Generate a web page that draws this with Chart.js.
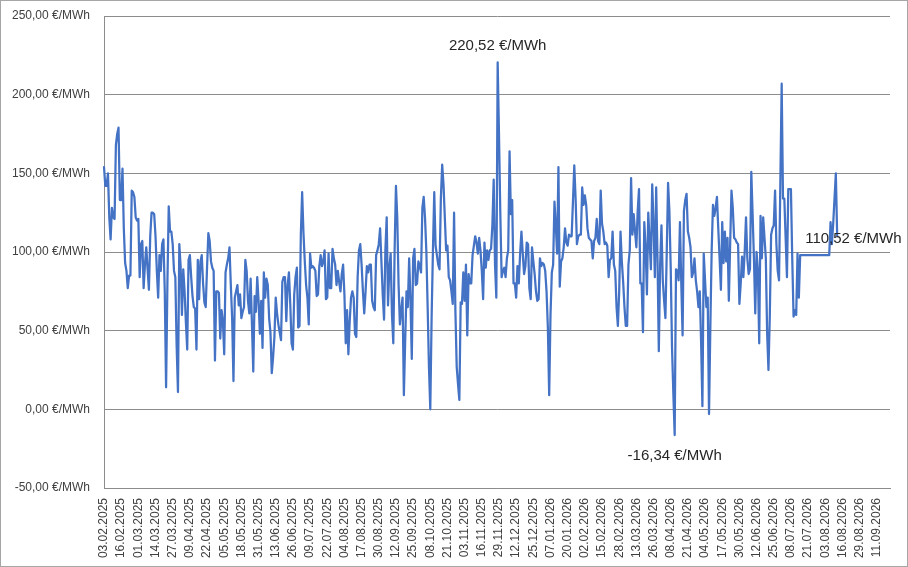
<!DOCTYPE html>
<html>
<head>
<meta charset="utf-8">
<title>Strompreis</title>
<script src="https://cdn.jsdelivr.net/npm/chart.js@4.4.1/dist/chart.umd.min.js"></script>
<style>
	html, body { margin: 0; padding: 0; background: #fff; }
	canvas { display: block; }
</style>
</head>
<body>
<canvas id="myChart" width="908" height="567"></canvas>
<script>
// daily price, first value = 03.02.2025
var prices = [
	154, 142, 142, 150, 122, 108, 128, 122, 121, 168,
	175, 179, 133, 133, 153, 115, 93, 88, 77, 85,
	85, 139, 138, 135, 122, 120, 121, 84, 105, 107,
	77, 92, 103, 89, 76, 110, 125, 125, 124, 110,
	88, 71, 98, 88, 105, 108, 75, 14, 80, 129,
	113, 113, 105, 88, 84, 40, 11, 105, 91, 60,
	89, 75, 55, 38, 95, 98, 84, 72, 65, 64,
	38, 95, 70, 94, 98, 80, 68, 65, 90, 112,
	107, 94, 90, 88, 31, 75, 75, 74, 45, 63,
	56, 35, 87, 92, 96, 103, 79, 58, 18, 71,
	75, 79, 66, 73, 58, 62, 65, 95, 88, 69,
	61, 83, 54, 24, 72, 62, 84, 69, 48, 69,
	39, 87, 71, 83, 79, 58, 49, 23, 33, 46,
	71, 61, 54, 49, 44, 81, 84, 84, 56, 79,
	87, 67, 42, 38, 73, 84, 90, 52, 53, 111,
	138, 112, 94, 79, 71, 54, 99, 90, 91, 90,
	88, 72, 73, 91, 98, 91, 94, 101, 70, 71,
	99, 77, 77, 102, 96, 92, 79, 88, 81, 75,
	86, 92, 73, 42, 63, 35, 56, 71, 75, 71,
	48, 46, 84, 101, 105, 92, 75, 61, 75, 91,
	87, 92, 92, 69, 65, 63, 98, 101, 105, 115,
	94, 73, 57, 101, 122, 66, 90, 99, 60, 42,
	101, 142, 122, 79, 54, 63, 71, 9, 44, 75,
	65, 96, 69, 32, 96, 102, 79, 80, 94, 91,
	87, 128, 135, 122, 101, 65, 27, 0, 58, 101,
	138, 104, 98, 92, 89, 134, 155.5, 143, 122, 101,
	104, 84, 82, 75, 67, 125, 63, 27, 16, 6,
	68, 67, 87, 69, 92, 47, 86, 80, 80, 98,
	104, 110, 106, 99, 109, 101, 88, 70, 106, 90,
	101, 95, 101, 102, 117, 146, 92, 71, 220.52, 175,
	125, 84, 88, 90, 84, 96, 101, 164, 124, 133,
	80, 80, 71, 91, 80, 99, 113, 99, 86, 91,
	106, 105, 77, 70, 103, 94, 86, 75, 69, 70,
	96, 91, 93, 92, 88, 75, 52, 9, 60, 87,
	92, 132, 117, 99, 154, 78, 94, 96, 103, 115,
	106, 104, 111, 110, 110, 132, 155, 134, 105, 110,
	111, 111, 141, 130, 136, 130, 115, 109, 108, 107,
	96, 107, 109, 121, 107, 105, 139, 118, 113, 105,
	106, 104, 84, 95, 96, 113, 92, 88, 65, 53,
	75, 113, 94, 81, 65, 53, 53, 92, 101, 147,
	111, 124, 113, 103, 126, 140, 80, 80, 49, 119,
	103, 73, 125, 107, 89, 143, 118, 84, 141, 96,
	37, 92, 117, 82, 69, 58, 100, 144, 126, 90,
	39, 10, -16.34, 89, 88, 82, 119, 80, 47, 126,
	133, 137, 113, 109, 103, 84, 87, 96, 82, 75,
	65, 75, 43, 2, 99, 82, 65, 71, -3, 52,
	101, 130, 123, 128, 135, 115, 96, 76, 119, 93,
	113, 94, 109, 69, 105, 139, 128, 109, 108, 106,
	105, 67, 80, 97, 84, 100, 122, 96, 86, 89,
	151, 124, 96, 61, 100, 88, 42, 123, 96, 122,
	109, 96, 48, 25, 59, 111, 115, 117, 139, 105,
	88, 82, 145, 207, 134, 134, 109, 84, 140, 140,
	140, 96, 59, 63, 60, 99, 71, 98, 98, 98,
	98, 98, 98, 98, 98, 98, 98, 98, 98, 98,
	98, 98, 98, 98, 98, 98, 98, 98, 98, 98,
	119, 105, 118, 134, 150, 110.52
];

var tickLabels = [
	'03.02.2025', '16.02.2025', '01.03.2025', '14.03.2025', '27.03.2025', '09.04.2025',
	'22.04.2025', '05.05.2025', '18.05.2025', '31.05.2025', '13.06.2025', '26.06.2025',
	'09.07.2025', '22.07.2025', '04.08.2025', '17.08.2025', '30.08.2025', '12.09.2025',
	'25.09.2025', '08.10.2025', '21.10.2025', '03.11.2025', '16.11.2025', '29.11.2025',
	'12.12.2025', '25.12.2025', '07.01.2026', '20.01.2026', '02.02.2026', '15.02.2026',
	'28.02.2026', '13.03.2026', '26.03.2026', '08.04.2026', '21.04.2026', '04.05.2026',
	'17.05.2026', '30.05.2026', '12.06.2026', '25.06.2026', '08.07.2026', '21.07.2026',
	'03.08.2026', '16.08.2026', '29.08.2026', '11.09.2026'
];

var yTicks = [-50, 0, 50, 100, 150, 200, 250];

// category axis: one entry per day, axis runs a bit past the last tick label
var startDate = Date.UTC(2025, 1, 3),
		dayCount  = 596;

function pad (n) {
	return (n < 10 ? '0' : '') + n;
}

function fmtDate (t) {
	var d = new Date(t);
	return pad(d.getUTCDate()) + '.' + pad(d.getUTCMonth() + 1) + '.' + d.getUTCFullYear();
}

function euro (v) {
	return v.toFixed(2).replace('.', ',') + ' €/MWh';
}

var days = [];
for (var i = 0; i < dayCount; i++) {
	days.push(fmtDate(startDate + i * 86400000));
}

var textColor = '#404040',
		gridColor = '#8c8c8c',
		fontName  = '"Liberation Sans", Arial, sans-serif';

var frame = {
	id: 'frame',
	beforeDraw: function (chart) {
		var ctx = chart.ctx;
		ctx.save();
		ctx.fillStyle = '#fff';
		ctx.fillRect(0, 0, chart.width, chart.height);
		ctx.strokeStyle = '#a6a6a6';
		ctx.lineWidth = 1;
		ctx.strokeRect(0.5, 0.5, chart.width - 1, chart.height - 1);
		ctx.restore();
	}
};

var valueLabels = {
	id: 'valueLabels',
	afterDatasetsDraw: function (chart) {
		var ctx  = chart.ctx,
				pts  = chart.getDatasetMeta(0).data,
				hi   = prices.indexOf(Math.max.apply(null, prices)),
				lo   = prices.indexOf(Math.min.apply(null, prices)),
				last = prices.length - 1;

		ctx.save();
		ctx.font = '15px ' + fontName;
		ctx.fillStyle = '#262626';
		ctx.textBaseline = 'middle';
		ctx.textAlign = 'center';
		ctx.fillText(euro(prices[hi]), pts[hi].x, pts[hi].y - 17);
		ctx.fillText(euro(prices[lo]), pts[lo].x, pts[lo].y + 21);
		ctx.textAlign = 'left';
		ctx.fillText(euro(prices[last]), pts[last].x - 32, pts[last].y + 3);
		ctx.restore();
	}
};

var ctx = document.getElementById('myChart');

window.myLineChart = new Chart(ctx, {
	type: 'line',
	data: {
		labels: days,
		datasets: [
			{
				label: 'Preis',
				data: prices,
				borderColor: '#4472C4',
				borderWidth: 2.25,
				borderJoinStyle: 'round',
				borderCapStyle: 'round',
				pointRadius: 0,
				tension: 0,
				fill: false
			}
		]
	},
	options: {
		responsive: false,
		animation: false,
		devicePixelRatio: 1,
		layout: { padding: { left: 0, right: 18, top: 16, bottom: 0 } },
		plugins: {
			legend: { display: false },
			tooltip: { enabled: false }
		},
		scales: {
			x: {
				type: 'category',
				offset: false,
				grid: { display: false, drawTicks: false },
				border: { display: true, color: gridColor },
				afterFit: function (scale) { scale.height = 79; },
				ticks: {
					autoSkip: false,
					minRotation: 90,
					maxRotation: 90,
					padding: 10,
					color: textColor,
					font: { family: fontName, size: 12 },
					callback: function (value, index) {
						var l = days[index];
						return tickLabels.indexOf(l) >= 0 ? l : null;
					}
				}
			},
			y: {
				min: yTicks[0],
				max: yTicks[yTicks.length - 1],
				// invisible tick marks push the labels away from the axis
				grid: { color: gridColor, drawTicks: true, tickLength: 14, tickColor: 'rgba(0,0,0,0)' },
				border: { display: true, color: gridColor },
				afterFit: function (scale) { scale.width = 104; },
				afterBuildTicks: function (scale) {
					scale.ticks = yTicks.map(function (v) { return { value: v }; });
				},
				ticks: {
					padding: 0,
					color: textColor,
					font: { family: fontName, size: 12 },
					callback: function (v) { return euro(v); }
				}
			}
		}
	},
	plugins: [frame, valueLabels]
});
</script>
</body>
</html>
